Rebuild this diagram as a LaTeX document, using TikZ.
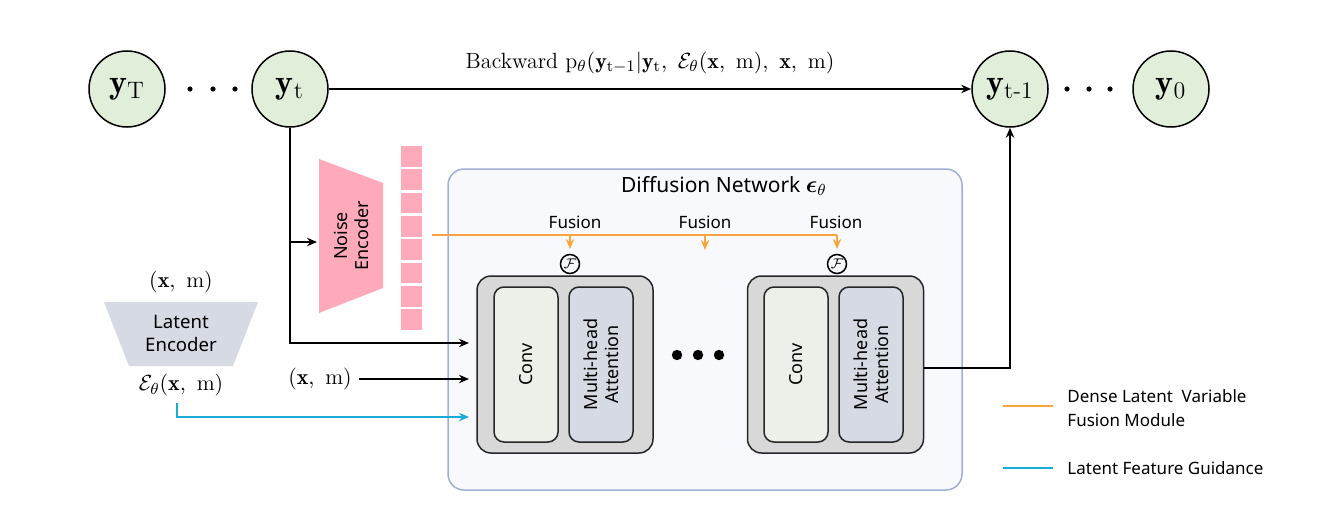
\documentclass[tikz,border=0pt]{standalone}
\usepackage{amsmath,amssymb}
\usepackage{fontspec}
\setsansfont{Noto Sans}
\usepackage{tikz}
\usetikzlibrary{calc,arrows.meta,positioning}
\definecolor{stategreen}{RGB}{225,239,218}
\definecolor{noisepink}{RGB}{255,170,186}
\definecolor{latgray}{RGB}{213,218,227}
\definecolor{convgray}{RGB}{237,239,233}
\definecolor{blkgray}{RGB}{216,216,216}
\definecolor{netfill}{RGB}{248,249,252}
\definecolor{netline}{RGB}{160,176,210}
\definecolor{fuseorange}{RGB}{246,166,60}
\definecolor{guidecyan}{RGB}{22,172,212}

\begin{document}
\begin{tikzpicture}[x=0.5pt,y=-0.5pt,line width=0.75pt,
      tip/.style={-{Stealth[length=5pt,width=4.2pt]}},
      state/.style={circle,draw=black,fill=stategreen,minimum size=38pt,inner sep=0pt,font=\fontsize{17}{20}\selectfont},
      blk/.style={draw=black!85,fill=blkgray,rounded corners=7pt,minimum width=88pt,minimum height=88.5pt},
      conv/.style={draw=black!85,fill=convgray,rounded corners=5pt,minimum width=32pt,minimum height=77.5pt},
      attn/.style={draw=black!85,fill=latgray,rounded corners=5pt,minimum width=32pt,minimum height=77.5pt},
      lbl/.style={font=\sffamily\fontsize{8.5}{10}\selectfont,align=center},
      mth/.style={font=\fontsize{11}{13}\selectfont},
      fuse/.style={draw=fuseorange,line width=0.8pt},
      guide/.style={draw=guidecyan,line width=0.8pt}]
    \useasboundingbox (0,0) rectangle (1344,508);
    % chain of states
    \node[state] (yT)  at (127,89)  {$\mathbf{y}_{\mathrm{T}}$};
    \node[state] (yt)  at (290,89)  {$\mathbf{y}_{\mathrm{t}}$};
    \node[state] (yt1) at (1010,89) {$\mathbf{y}_{\text{t-1}}$};
    \node[state] (y0)  at (1171,89) {$\mathbf{y}_{0}$};
    \foreach \x in {190,213,235,1067,1089,1110}
      \fill (\x,89) circle (1.3pt);
    \draw[tip] (yt) -- (yt1)
      node[midway,above=4pt,mth] (bw) {Backward $\mathrm{p}_\theta(\mathbf{y}_{\mathrm{t}-1}|\mathbf{y}_{\mathrm{t}},\ \mathcal{E}_\theta(\mathbf{x},\ \mathrm{m}),\ \mathbf{x},\ \mathrm{m})$};
    % diffusion network
    \node[draw=netline,fill=netfill,rounded corners=8pt,minimum width=257pt,minimum height=160.5pt] (net) at (705,329.5) {};
    \node[font=\sffamily\fontsize{10.5}{12}\selectfont] (title) at (724,186) {Diffusion Network {\large$\boldsymbol{\epsilon}_{\theta}$}};
    \node[blk]  (blkA) at (565,364.5) {};
    \node[conv] (convA) at (526,364.5) {};
    \node[attn] (attA) at (601,364.5) {};
    \node[blk]  (blkB) at (835.5,364.5) {};
    \node[conv] (convB) at (796,364.5) {};
    \node[attn] (attB) at (871,364.5) {};
    \foreach \n in {convA,convB}
      \node[lbl,rotate=90,font=\sffamily\fontsize{9}{10.5}\selectfont] at (\n) {Conv};
    \foreach \n in {attA,attB}
      \node[lbl,rotate=90,font=\sffamily\fontsize{9}{10.5}\selectfont] at (\n) {Multi-head\\Attention};
    \foreach \x in {677,698,719}
      \fill (\x,355) circle (2.6pt);
    % fusion
    \node[lbl] (fu1) at (575,222) {Fusion};
    \node[lbl] (fu2) at (705,222) {Fusion};
    \node[lbl] (fu3) at (836,222) {Fusion};
    \node[circle,draw,inner sep=0pt,minimum size=9.5pt,font=\fontsize{7}{8}\selectfont] (F1) at (570,264) {$\mathcal{F}$};
    \node[circle,draw,inner sep=0pt,minimum size=9.5pt,font=\fontsize{7}{8}\selectfont] (F3) at (837,264) {$\mathcal{F}$};
    \coordinate (fs) at (432,235);
    \coordinate (fe) at (837,235);
    \coordinate (f2) at (705,250);
    \draw[fuse] (fs) -- (fe);
    \draw[fuse,tip] (F1.north |- fs) -- ++(0,14);
    \draw[fuse,tip] (fu2.south |- fs) -- (f2);
    \draw[fuse,tip] (fe) -- ++(0,14);
    % noise encoder
    \filldraw[fill=noisepink,draw=none] (319,159) -- (383,183) -- (383,288) -- (319,313) -- cycle;
    \node[lbl,rotate=90,font=\sffamily\fontsize{9}{10.5}\selectfont] (nenc) at (351,236) {Noise\\Encoder};
    \foreach \i in {0,...,7}
      \fill[noisepink] (401,146+\i*23.3) rectangle ++(21,20.8);
    % latent encoder
    \filldraw[fill=latgray,draw=none] (104,302) -- (258,302) -- (233,366) -- (129,366) -- cycle;
    \node[lbl,font=\sffamily\fontsize{9.3}{11.5}\selectfont] (lenc) at (181,333) {Latent\\Encoder};
    \node[mth] (xmin) at (181,282) {$(\mathbf{x},\ \mathrm{m})$};
    \node[mth] (eps) at (181,385) {$\mathcal{E}_\theta(\mathbf{x},\ \mathrm{m})$};
    \node[mth] (xm) at (320,379) {$(\mathbf{x},\ \mathrm{m})$};
    % inputs
    \coordinate (tin) at (469,343);
    \coordinate (nin) at (317,242);
    \draw[tip] (yt.south) |- (tin);
    \draw[tip] (yt.south |- nin) -- (nin);
    \draw[tip] (xm.east) -- (xm.east -| tin);
    \draw[guide,tip] ([xshift=-2pt]eps.south) |- (tin |- 0,417);
    % output
    \draw[tip] (blkB.east |- 0,368) -| (yt1.south);
    % legend
    \coordinate (lg1) at (1003,406);
    \coordinate (lg2) at (1003,468);
    \draw[fuse] (lg1) -- ++(50,0);
    \draw[guide] (lg2) -- ++(50,0);
    \node[lbl,anchor=west,align=left,font=\sffamily\fontsize{8.5}{12}\selectfont] (lgt1) at (1060,408) {Dense Latent\ \ Variable\\Fusion Module};
    \node[lbl,anchor=west,font=\sffamily\fontsize{8.5}{10}\selectfont] (lgt2) at (1060,468) {Latent Feature Guidance};
  \end{tikzpicture}
\end{document}
